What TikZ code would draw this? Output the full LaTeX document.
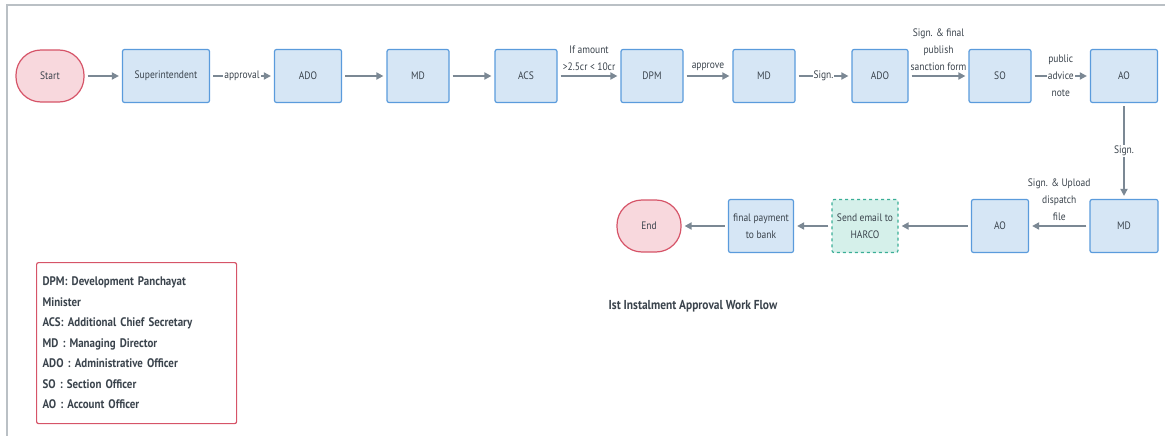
\documentclass[tikz,border=0pt]{standalone}
\usepackage{fontspec}
\setmainfont{PT Sans}[FakeStretch=0.88]
\newfontfamily\heavyfont{PT Sans}[FakeStretch=0.88, UprightFont=* Bold]
\usetikzlibrary{positioning, arrows.meta}
\definecolor{boxfill}{HTML}{D6E6F5}
\definecolor{boxline}{HTML}{5A9BDC}
\definecolor{endfill}{HTML}{F8D8DD}
\definecolor{endline}{HTML}{D65468}
\definecolor{mailfill}{HTML}{D5F0EA}
\definecolor{mailline}{HTML}{3BAE96}
\definecolor{arrowgray}{HTML}{7B8894}
\definecolor{textgray}{HTML}{3A434C}
\definecolor{framegray}{HTML}{BAC0C5}

\begin{document}
\begin{tikzpicture}[x=1pt, y=-1pt, >={Triangle[length=7pt, width=7pt]}, text=textgray,
font=\fontsize{10.8}{17}\selectfont,
endnode/.style={rectangle, rounded corners=25pt, draw=endline, fill=endfill, line width=1.2pt, minimum width=68pt, minimum height=52pt},
boxnode/.style={rectangle, rounded corners=2pt, draw=boxline, fill=boxfill, line width=1.2pt, minimum width=62pt, minimum height=53pt, align=center},
mailnode/.style={boxnode, draw=mailline, fill=mailfill, dashed},
flow/.style={->, draw=arrowgray, line width=2.4pt, shorten >=3pt, shorten <=3pt},
inlabel/.style={fill=white, inner sep=1pt, align=center},
toplabel/.style={above, inner sep=4pt, align=center},
]
\useasboundingbox (0,0) rectangle (1165,436);
\draw[framegray, line width=2pt] (7,436) -- (7,5) -- (1165,5);

%Nodes
\node[endnode]  (start)  at (50,76)   {Start};
\node[boxnode, minimum width=87pt]  (super)  at (166,76)  {Superintendent};
\node[boxnode, minimum width=67pt]  (ado1)   at (308,76)  {ADO};
\node[boxnode]  (md1)    at (418,76)  {MD};
\node[boxnode]  (acs)    at (526,76)  {ACS};
\node[boxnode]  (dpm)    at (652,76)  {DPM};
\node[boxnode]  (md2)    at (764,76)  {MD};
\node[boxnode, minimum width=56pt]  (ado2)   at (880,76)  {ADO};
\node[boxnode]  (so)     at (1000,76) {SO};
\node[boxnode, minimum width=67pt]  (ao1)    at (1124,76) {AO};
\node[boxnode, minimum width=68pt]  (md3)    at (1124,226) {MD};
\node[boxnode, minimum width=57pt]  (ao2)    at (1000,226) {AO};
\node[mailnode, minimum width=66pt] (email)  at (865,226) {Send email to\\HARCO};
\node[boxnode, minimum width=65pt]  (pay)    at (761,226) {final payment\\to bank};
\node[endnode, minimum width=64pt]  (end)    at (649,226) {End};

\node[draw=endline, line width=1.2pt, rounded corners=2pt, anchor=north west, minimum width=200pt, minimum height=161pt, text width=188pt, align=left, font=\heavyfont\fontsize{12.4}{20.5}\selectfont] (legend) at (36,262)
{DPM: Development Panchayat\\Minister\\ACS: Additional Chief Secretary\\MD : Managing Director\\ADO : Administrative Officer\\SO : Section Officer\\AO : Account Officer};
\node[font=\heavyfont\fontsize{13}{14}\selectfont] (title) at (693,306) {Ist Instalment Approval Work Flow};

%Lines
\draw[flow] (start) -- (super);
\draw[flow] (super) -- node[inlabel] {approval} (ado1);
\draw[flow] (ado1) -- (md1);
\draw[flow] (md1) -- (acs);
\draw[flow] (acs) -- node[toplabel] {If amount\\>2.5cr < 10cr} (dpm);
\draw[flow] (dpm) -- node[toplabel] {approve} (md2);
\draw[flow] (md2) -- node[inlabel] {Sign.} (ado2);
\draw[flow] (ado2) -- node[toplabel] {Sign. \& final\\publish\\sanction form} (so);
\draw[flow] (so) -- node[inlabel] {public\\advice\\note} (ao1);
\draw[flow] (ao1) -- node[inlabel] {Sign.} (md3);
\draw[flow] (md3) -- node[toplabel] {Sign. \& Upload\\dispatch\\file} (ao2);
\draw[flow] (ao2) -- (email);
\draw[flow] (email) -- (pay);
\draw[flow] (pay) -- (end);
\end{tikzpicture}
\end{document}
